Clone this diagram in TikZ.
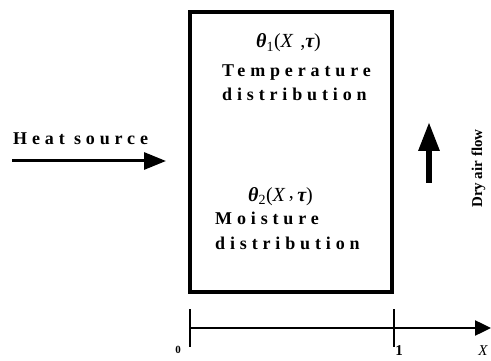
\documentclass[tikz,border=0pt]{standalone}
\usepackage{amsmath,amssymb}
\usepackage{fontspec}
\setmainfont{Liberation Serif}
\newfontfamily\spacedfont[LetterSpace=27]{Liberation Serif}
\usepackage{tikz}
\usetikzlibrary{arrows.meta, positioning}
\tikzstyle{spaced} = [inner sep=0pt, font=\spacedfont\bfseries\fontsize{18}{20}\selectfont, anchor=base west]
\tikzstyle{func} = [inner sep=0pt, font=\fontsize{20}{22}\selectfont, anchor=base west]
\tikzstyle{layer} = [draw, line width=4pt, minimum width=202pt, minimum height=280pt, inner sep=0pt]
\tikzstyle{heatarrow} = [line width=3pt, -{Triangle[length=22pt,width=17pt]}]
\tikzstyle{airarrow} = [line width=6pt, -{Triangle[length=29pt,width=20pt]}]
\tikzstyle{axis} = [line width=2.5pt, -{Triangle[length=16pt,width=15pt]}]
\newcommand{\bth}{{\bfseries\itshape θ}}
\newcommand{\btau}{{\bfseries\itshape τ}}

\begin{document}
\begin{tikzpicture}[x=1pt, y=-1pt]
  \useasboundingbox (0,0) rectangle (491,361);

  % the slab
  \node (slab) [layer] at (291,152) {};

  % texts inside the slab
  \node (th1) [func] at (256,48) {\bth\textsubscript{1}(\textit{X}\,\,,\btau)};
  \node (temp) [spaced] at (222,77) {Temperature};
  \node (tdist) [spaced] at (222,101) {distribution};
  \node (th2) [func] at (248,201) {\bth\textsubscript{2}(\textit{X}\,\raisebox{0.3ex}{,}\,\btau)};
  \node (mois) [spaced] at (215,225) {Moisture};
  \node (mdist) [spaced] at (215,250) {distribution};

  % heat source from the left
  \node (heat) [spaced] at (13,145) {Heat source};
  \coordinate (hs0) at (12,161);
  \coordinate (hs1) at (166,161);
  \draw[heatarrow] (hs0) -- (hs1);

  % air flow on the right
  \coordinate (af0) at (429,183);
  \coordinate (af1) at (429,122);
  \draw[airarrow] (af0) -- (af1);
  \node (air) [inner sep=0pt, anchor=base west, rotate=90, font=\bfseries\fontsize{15}{17}\selectfont] at (482,208) {Dry air flow};

  % X axis
  \coordinate (o) at (190,328);
  \coordinate (one) at (394,328);
  \coordinate (xend) at (491,328);
  \draw[axis] (o) -- (xend);
  \draw[line width=2pt] (190,309) -- (190,347);
  \draw[line width=2pt] (394,309) -- (394,347);
  \node (lo) [font=\bfseries\fontsize{11}{12}\selectfont, inner sep=0pt] at (178,350) {0};
  \node (l1) [font=\bfseries\fontsize{15}{16}\selectfont, inner sep=0pt] at (399,351) {1};
  \node (lx) [font=\itshape\fontsize{15}{16}\selectfont, inner sep=0pt] at (483,351) {X};
\end{tikzpicture}
\end{document}
